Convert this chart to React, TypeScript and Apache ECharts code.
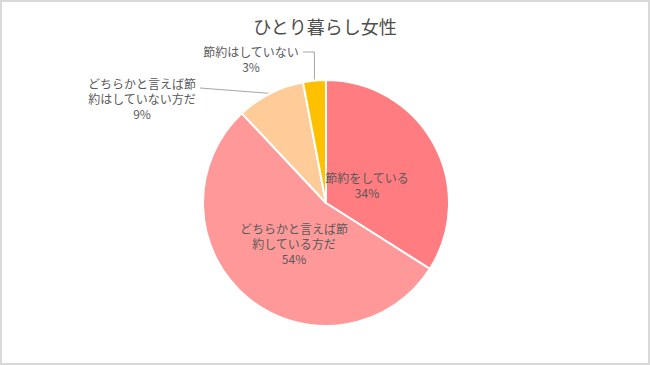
import React, { useEffect, useRef } from "react";
import * as echarts from "echarts";

const titleText = "ひとり暮らし女性";
const categories = [
  "節約をしている",
  "どちらかと言えば節約している方だ",
  "どちらかと言えば節約はしていない方だ",
  "節約はしていない",
];
const values = [34, 54, 9, 3];
const labelTexts = [
  "節約をしている",
  "どちらかと言えば節\n約している方だ",
  "どちらかと言えば節\n約はしていない方だ",
  "節約はしていない",
];
const colors = ["#FF7C80", "#FF9999", "#FFCC99", "#FFC000"];
const outside = [false, false, true, true];

const FONT = "'Noto Sans CJK JP', 'Noto Sans', sans-serif";
const CX = 326;
const CY = 203;
const R = 123;

// label anchor positions (centre of label block)
const labelPos = [
  [367, 185],
  [294, 243],
  [142, 98],
  [251, 59],
];

export default function App() {
  const ref = useRef<HTMLDivElement>(null);
  useEffect(() => {
    if (!ref.current) return;
    const chart = echarts.init(ref.current, undefined, { renderer: "svg" });
    const total = values.reduce((a, b) => a + b, 0);
    const edgePoint = (i: number) => {
      let before = 0;
      for (let k = 0; k < i; k++) before += values[k];
      const mid = ((before + values[i] / 2) / total) * Math.PI * 2;
      return [CX + R * Math.sin(mid), CY - R * Math.cos(mid)];
    };
    chart.setOption({
      animation: false,
      backgroundColor: "#ffffff",
      title: {
        text: titleText,
        left: "center",
        top: 17,
        padding: 0,
        textStyle: {
          fontSize: 18,
          fontWeight: "normal",
          color: "#4d4d4d",
          fontFamily: FONT,
        },
      },
      series: [
        {
          type: "pie",
          center: [CX, CY],
          radius: R,
          startAngle: 90,
          clockwise: true,
          avoidLabelOverlap: false,
          itemStyle: { borderColor: "#ffffff", borderWidth: 2 },
          label: {
            show: true,
            fontSize: 12,
            lineHeight: 15,
            color: "#595959",
            fontFamily: FONT,
            align: "center",
            formatter: (p: any) =>
              labelTexts[p.dataIndex] + "\n" + Math.round(p.percent) + "%",
          },
          labelLine: { lineStyle: { color: "#a6a6a6", width: 1 } },
          labelLayout: (params: any) => {
            const i = params.dataIndex;
            const [x, y] = labelPos[i];
            const res: any = { x, y, align: "center", verticalAlign: "middle" };
            if (outside[i]) {
              const e = edgePoint(i);
              if (i === 2) {
                const end = [200, 88];
                res.labelLinePoints = [
                  e,
                  [(e[0] + end[0]) / 2, (e[1] + end[1]) / 2],
                  end,
                ];
              } else {
                res.labelLinePoints = [e, [e[0], 52], [303, 52]];
              }
            }
            return res;
          },
          data: categories.map((name, i) => ({
            name,
            value: values[i],
            itemStyle: { color: colors[i] },
            label: { position: outside[i] ? "outside" : "inside" },
            labelLine: { show: outside[i] },
          })),
        },
      ],
    });
    return () => chart.dispose();
  }, []);
  return (
    <div
      style={{
        position: "fixed",
        left: 0,
        top: 0,
        width: 650,
        height: 365,
        background: "#fff",
      }}
    >
      <div ref={ref} style={{ position: "absolute", left: 0, top: 0, width: 650, height: 365 }} />
      <div
        style={{
          position: "absolute",
          left: 0,
          top: 0,
          width: 650,
          height: 365,
          boxSizing: "border-box",
          border: "2px solid #d9d9d9",
          pointerEvents: "none",
        }}
      />
    </div>
  );
}
